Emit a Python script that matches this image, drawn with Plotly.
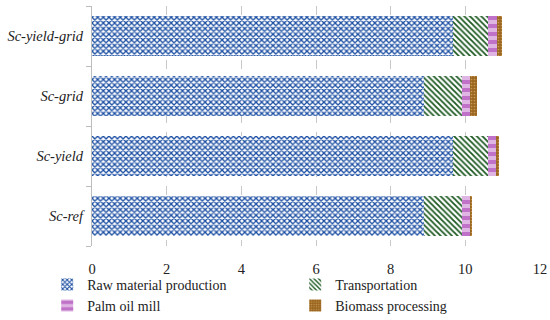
import plotly.graph_objects as go

scenarios = ["Sc-ref", "Sc-yield", "Sc-grid", "Sc-yield-grid"]
raw_material = [8.89, 9.67, 8.89, 9.67]
transportation = [1.03, 0.94, 1.03, 0.94]
palm_oil_mill = [0.22, 0.23, 0.21, 0.24]
biomass = [0.04, 0.05, 0.17, 0.14]
x_ticks = [0, 2, 4, 6, 8, 10, 12]

labels = ["<i>%s</i>" % s for s in scenarios]
FONT = "Liberation Serif"

fig = go.Figure()
fig.add_trace(go.Bar(
    y=labels, x=raw_material, orientation="h", name="Raw material production",
    marker=dict(color="#ffffff", line=dict(width=0),
                pattern=dict(shape="x", fgcolor="#1c4fa3", bgcolor="#ffffff",
                             size=4, solidity=0.55, fgopacity=1, fillmode="overlay")),
))
fig.add_trace(go.Bar(
    y=labels, x=transportation, orientation="h", name="Transportation",
    marker=dict(color="#ffffff", line=dict(width=0),
                pattern=dict(shape="\\", fgcolor="#1d5a22", bgcolor="#ffffff",
                             size=4, solidity=0.45, fgopacity=1, fillmode="overlay")),
))
fig.add_trace(go.Bar(
    y=labels, x=palm_oil_mill, orientation="h", name="Palm oil mill",
    marker=dict(color="#dfb6e3", line=dict(width=0),
                pattern=dict(shape="-", fgcolor="#c071c8", bgcolor="#dfb6e3",
                             size=8, solidity=0.5, fgopacity=1, fillmode="overlay")),
))
fig.add_trace(go.Bar(
    y=labels, x=biomass, orientation="h", name="Biomass processing",
    marker=dict(color="#9a6620", line=dict(width=0),
                pattern=dict(shape=".", fgcolor="#c79a55", bgcolor="#9a6620",
                             size=3, solidity=0.25, fgopacity=1, fillmode="overlay")),
))

fig.update_layout(
    barmode="stack",
    bargap=0.33,
    width=550, height=320,
    margin=dict(l=92, r=10, t=6, b=74, autoexpand=False),
    plot_bgcolor="white", paper_bgcolor="white",
    font=dict(family=FONT, size=14, color="#222222"),
    legend=dict(orientation="h", x=-0.1, xanchor="left", y=-0.095, yanchor="top",
                traceorder="normal",
                entrywidth=203, entrywidthmode="pixels",
                font=dict(family=FONT, size=14, color="#222222"),
                itemwidth=30, tracegroupgap=0, bgcolor="rgba(0,0,0,0)"),
    showlegend=True,
)
fig.update_xaxes(
    range=[0, 12], tickvals=x_ticks, ticktext=[str(v) for v in x_ticks],
    showgrid=True, gridcolor="#c8c8c8", griddash="dash", gridwidth=1,
    zeroline=False, showline=False, ticks="", ticklabelstandoff=12,
    tickfont=dict(family=FONT, size=14.5, color="#222222"),
)
fig.update_yaxes(
    categoryorder="array", categoryarray=labels,
    showline=True, linecolor="#bdbdbd", linewidth=1,
    ticks="outside", tickson="boundaries", ticklen=5, tickcolor="#bdbdbd",
    showgrid=False, ticklabelstandoff=5,
    tickfont=dict(family=FONT, size=14.5, color="#222222"),
)

fig.write_html("out.html", config={"displayModeBar": False},
               post_script="document.body.style.margin='0';")
